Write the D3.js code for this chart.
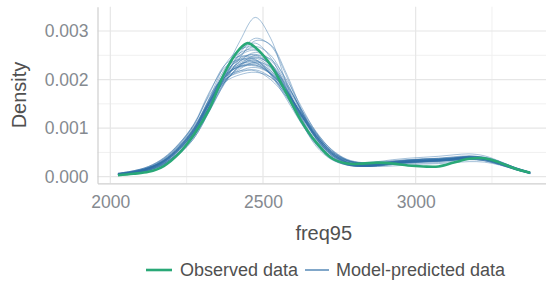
<!DOCTYPE html>
<html><head><meta charset="utf-8">
<script src="https://cdn.jsdelivr.net/npm/d3@7"></script>
<style>body{margin:0;background:#fff;}svg{display:block;font-family:"Liberation Sans",Arial,sans-serif;}</style>
</head><body>
<svg id="chart" width="546" height="289"></svg>
<script>
// ---- data ----
const xGrid = [2025,2075,2125,2175,2225,2275,2325,2375,2425,2475,2525,2575,2625,2675,2725,2775,2825,2875,2925,2975,3025,3075,3125,3175,3225,3275,3325,3375];
const xObs = [2025,2075,2125,2175,2225,2275,2325,2375,2425,2450,2475,2525,2575,2625,2675,2725,2775,2825,2875,2925,2975,3025,3075,3125,3175,3225,3275,3325,3375];
// densities in units of 1e-3
const observed = [0.03,0.06,0.10,0.22,0.48,0.88,1.40,2.15,2.64,2.75,2.66,2.30,1.74,1.15,0.70,0.38,0.27,0.27,0.29,0.27,0.23,0.21,0.21,0.29,0.37,0.38,0.29,0.17,0.08];
const predicted = [
 [0.04,0.07,0.13,0.26,0.50,0.85,1.45,2.15,2.80,3.28,2.85,1.95,1.15,0.62,0.35,0.24,0.22,0.24,0.27,0.29,0.30,0.31,0.34,0.36,0.33,0.25,0.15,0.06],
 [0.05,0.08,0.14,0.27,0.50,0.84,1.42,2.05,2.55,2.85,2.70,2.10,1.35,0.75,0.40,0.26,0.22,0.25,0.30,0.33,0.34,0.35,0.37,0.40,0.36,0.27,0.16,0.07],
 [0.06,0.10,0.18,0.34,0.62,1.00,1.55,2.00,2.15,2.20,2.05,1.70,1.25,0.82,0.50,0.33,0.28,0.30,0.33,0.35,0.36,0.36,0.38,0.40,0.37,0.28,0.17,0.08],
 [0.07,0.12,0.20,0.37,0.66,1.08,1.72,2.30,2.48,2.42,2.10,1.62,1.10,0.66,0.38,0.25,0.22,0.24,0.28,0.31,0.33,0.34,0.36,0.39,0.37,0.29,0.18,0.09],
 [0.05,0.09,0.16,0.30,0.56,0.93,1.52,2.08,2.32,2.40,2.22,1.80,1.28,0.80,0.46,0.30,0.25,0.26,0.29,0.31,0.32,0.33,0.35,0.37,0.35,0.27,0.17,0.08],
 [0.04,0.08,0.15,0.29,0.54,0.90,1.52,2.15,2.50,2.60,2.35,1.82,1.22,0.72,0.40,0.26,0.23,0.25,0.29,0.32,0.33,0.33,0.34,0.36,0.33,0.25,0.15,0.07],
 [0.06,0.11,0.19,0.35,0.63,1.02,1.62,2.10,2.27,2.30,2.14,1.78,1.30,0.86,0.52,0.34,0.27,0.27,0.30,0.32,0.33,0.34,0.36,0.38,0.35,0.26,0.15,0.07],
 [0.05,0.09,0.17,0.32,0.59,0.98,1.62,2.30,2.62,2.66,2.30,1.72,1.12,0.66,0.37,0.24,0.21,0.23,0.27,0.30,0.31,0.32,0.35,0.38,0.36,0.28,0.17,0.08],
 [0.04,0.07,0.13,0.25,0.48,0.83,1.38,1.95,2.28,2.45,2.32,1.92,1.38,0.88,0.50,0.31,0.25,0.25,0.28,0.31,0.33,0.35,0.38,0.42,0.40,0.31,0.19,0.09],
 [0.05,0.10,0.18,0.33,0.58,0.95,1.55,2.15,2.42,2.52,2.30,1.85,1.28,0.78,0.43,0.27,0.23,0.24,0.27,0.30,0.32,0.34,0.37,0.40,0.37,0.28,0.17,0.08],
 [0.06,0.10,0.17,0.31,0.57,0.95,1.55,2.05,2.28,2.33,2.15,1.75,1.27,0.83,0.49,0.32,0.27,0.28,0.31,0.34,0.36,0.37,0.39,0.41,0.38,0.29,0.18,0.09],
 [0.05,0.09,0.16,0.30,0.55,0.92,1.50,1.98,2.18,2.25,2.12,1.78,1.32,0.88,0.54,0.35,0.28,0.28,0.31,0.33,0.34,0.35,0.37,0.39,0.36,0.27,0.16,0.07],
 [0.04,0.08,0.14,0.27,0.51,0.87,1.48,2.15,2.60,2.75,2.45,1.85,1.20,0.68,0.37,0.24,0.21,0.23,0.27,0.30,0.31,0.32,0.34,0.37,0.35,0.26,0.16,0.07],
 [0.07,0.12,0.21,0.38,0.68,1.10,1.75,2.25,2.42,2.40,2.12,1.66,1.15,0.70,0.40,0.26,0.22,0.23,0.26,0.29,0.31,0.33,0.36,0.40,0.38,0.30,0.19,0.10],
 [0.06,0.10,0.18,0.33,0.60,0.98,1.55,1.95,2.10,2.15,2.05,1.75,1.32,0.90,0.56,0.36,0.29,0.29,0.32,0.35,0.37,0.38,0.40,0.42,0.39,0.30,0.18,0.08],
 [0.04,0.07,0.12,0.24,0.46,0.80,1.35,1.92,2.30,2.50,2.42,2.02,1.45,0.90,0.50,0.30,0.24,0.24,0.27,0.30,0.32,0.34,0.36,0.39,0.37,0.29,0.18,0.09],
 [0.05,0.09,0.17,0.31,0.57,0.94,1.52,2.05,2.30,2.38,2.18,1.76,1.25,0.80,0.48,0.33,0.29,0.31,0.35,0.38,0.40,0.42,0.45,0.47,0.43,0.32,0.19,0.09],
 [0.05,0.09,0.16,0.30,0.56,0.94,1.58,2.22,2.55,2.62,2.32,1.78,1.18,0.70,0.39,0.25,0.21,0.22,0.25,0.27,0.28,0.29,0.32,0.35,0.33,0.25,0.15,0.06],
 [0.06,0.10,0.18,0.33,0.61,1.00,1.60,2.08,2.27,2.30,2.12,1.74,1.27,0.83,0.49,0.30,0.22,0.21,0.22,0.24,0.26,0.27,0.29,0.31,0.30,0.24,0.15,0.07],
 [0.04,0.08,0.15,0.28,0.52,0.88,1.46,2.05,2.38,2.56,2.40,1.95,1.38,0.84,0.46,0.28,0.23,0.24,0.28,0.31,0.33,0.35,0.38,0.41,0.38,0.29,0.17,0.08],
 [0.04,0.07,0.13,0.25,0.47,0.80,1.36,1.95,2.45,2.80,2.72,2.15,1.40,0.78,0.40,0.25,0.21,0.23,0.27,0.30,0.32,0.33,0.35,0.38,0.36,0.27,0.16,0.07],
 [0.07,0.12,0.21,0.39,0.68,1.08,1.68,2.05,2.18,2.18,2.00,1.66,1.24,0.84,0.52,0.34,0.28,0.28,0.31,0.33,0.34,0.35,0.37,0.40,0.37,0.29,0.18,0.09],
 [0.05,0.10,0.18,0.33,0.60,0.98,1.58,2.12,2.35,2.44,2.25,1.82,1.30,0.82,0.47,0.30,0.25,0.26,0.29,0.32,0.34,0.35,0.37,0.39,0.36,0.27,0.16,0.07],
 [0.04,0.08,0.14,0.27,0.50,0.86,1.44,1.98,2.22,2.36,2.26,1.90,1.40,0.92,0.55,0.34,0.26,0.25,0.28,0.31,0.33,0.35,0.38,0.41,0.38,0.29,0.17,0.08],
 [0.05,0.09,0.17,0.32,0.60,1.00,1.52,2.10,2.45,2.50,2.28,1.82,1.27,0.78,0.44,0.28,0.24,0.26,0.30,0.33,0.35,0.36,0.38,0.40,0.37,0.28,0.16,0.07],
 [0.06,0.11,0.19,0.36,0.65,1.05,1.56,2.12,2.40,2.35,2.10,1.70,1.22,0.78,0.45,0.29,0.25,0.27,0.31,0.34,0.36,0.37,0.39,0.42,0.40,0.31,0.19,0.09],
 [0.04,0.08,0.15,0.29,0.55,0.93,1.45,2.05,2.50,2.68,2.50,1.98,1.35,0.80,0.43,0.26,0.21,0.22,0.25,0.28,0.30,0.32,0.35,0.38,0.36,0.27,0.16,0.07],
 [0.05,0.10,0.18,0.34,0.62,1.02,1.50,2.02,2.32,2.35,2.18,1.78,1.28,0.82,0.47,0.29,0.23,0.23,0.26,0.29,0.31,0.33,0.36,0.39,0.37,0.29,0.18,0.09],
 [0.05,0.09,0.16,0.31,0.58,0.96,1.46,2.00,2.38,2.47,2.30,1.88,1.34,0.84,0.47,0.29,0.24,0.25,0.29,0.33,0.36,0.38,0.41,0.43,0.39,0.29,0.17,0.07],
 [0.06,0.10,0.17,0.32,0.59,0.97,1.44,1.95,2.25,2.28,2.12,1.76,1.30,0.86,0.52,0.33,0.26,0.26,0.28,0.30,0.31,0.32,0.34,0.36,0.34,0.26,0.16,0.08]
];
const xTicks = [2000,2500,3000];
const xMinor = [2250,2750,3250];
const yTicks = [0,0.001,0.002,0.003];
const yMinor = [0.0005,0.0015,0.0025];
const legendLabels = ["Observed data","Model-predicted data"];
const colObs = "#29a877", colPred = "#2e6da6";

// ---- layout ----
const svg = d3.select("#chart");
const L = 97.5, R = 550, T = 6.7, B = 183.3;
const x = d3.scaleLinear().domain([1958, 3440]).range([L, R]);
const y = d3.scaleLinear().domain([-0.000136, 0.0035]).range([B, T]);

const grid = svg.append("g");
grid.selectAll(".ym").data(yMinor).join("line")
  .attr("x1", L).attr("x2", R).attr("y1", d => y(d)).attr("y2", d => y(d))
  .attr("stroke", "#f0f0f0").attr("stroke-width", 1);
grid.selectAll(".xm").data(xMinor).join("line")
  .attr("y1", T).attr("y2", B).attr("x1", d => x(d)).attr("x2", d => x(d))
  .attr("stroke", "#f0f0f0").attr("stroke-width", 1);
grid.selectAll(".yM").data(yTicks).join("line")
  .attr("x1", L).attr("x2", R).attr("y1", d => y(d)).attr("y2", d => y(d))
  .attr("stroke", "#e6e6e6").attr("stroke-width", 1.2);
grid.selectAll(".xM").data(xTicks).join("line")
  .attr("y1", T).attr("y2", B).attr("x1", d => x(d)).attr("x2", d => x(d))
  .attr("stroke", "#e6e6e6").attr("stroke-width", 1.2);

// axes
const xAxis = svg.append("g").attr("transform", `translate(0,${B})`)
  .call(d3.axisBottom(x).tickValues(xTicks).tickFormat(d3.format("d")).tickSize(0).tickPadding(12));
const yAxis = svg.append("g").attr("transform", `translate(${L},0)`)
  .call(d3.axisLeft(y).tickValues(yTicks).tickFormat(d3.format(".3f")).tickSize(0).tickPadding(9));
[xAxis, yAxis].forEach(a => {
  a.select(".domain").attr("stroke", "#cfcfcf").attr("stroke-width", 1.2);
  a.selectAll("text").attr("fill", "#858a90").style("font-size", "17.5px")
   .style("font-family", '"Liberation Sans",Arial,sans-serif');
});

// lines
const predLine = d3.line().x((d, i) => x(xGrid[i])).y(d => y(d / 1000)).curve(d3.curveCatmullRom.alpha(0.5));
const obsLine = d3.line().x((d, i) => x(xObs[i])).y(d => y(d / 1000)).curve(d3.curveCatmullRom.alpha(0.5));
svg.append("g").selectAll("path").data(predicted).join("path")
  .attr("d", predLine).attr("fill", "none").attr("stroke", colPred)
  .attr("stroke-width", 0.9).attr("stroke-opacity", 0.48);
svg.append("path").datum(observed).attr("d", obsLine).attr("fill", "none")
  .attr("stroke", colObs).attr("stroke-width", 2.6).attr("stroke-linejoin", "round");

// titles
svg.append("text").attr("x", (L + R) / 2).attr("y", 240).attr("text-anchor", "middle")
  .attr("fill", "#505050").style("font-size", "20px").text("freq95");
svg.append("text").attr("transform", `translate(26,${(T + B) / 2}) rotate(-90)`)
  .attr("text-anchor", "middle").attr("fill", "#505050").style("font-size", "20px").text("Density");

// legend
const lg = svg.append("g");
const keys = [{x1:146,x2:172,tx:180,c:colObs,w:2.6},{x1:305,x2:329,tx:336,c:colPred,w:1.2}];
keys.forEach((k, i) => {
  lg.append("line").attr("x1", k.x1).attr("x2", k.x2).attr("y1", 270).attr("y2", 270)
    .attr("stroke", k.c).attr("stroke-width", k.w);
  lg.append("text").attr("x", k.tx).attr("y", 276).attr("fill", "#505050")
    .style("font-size", "18px").text(legendLabels[i]);
});
</script>
</body></html>
